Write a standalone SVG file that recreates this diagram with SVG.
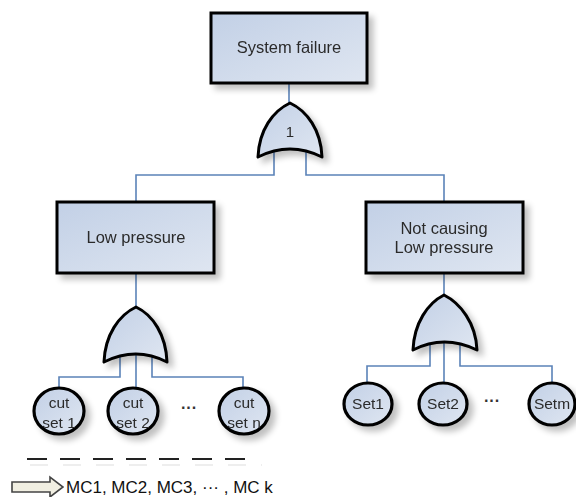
<svg xmlns="http://www.w3.org/2000/svg" width="576" height="497" viewBox="0 0 576 497">
  <style>
    .box { fill: url(#fillBlue); stroke: #000; stroke-width: 3; }
    .gate { fill: url(#fillBlue); stroke: #000; stroke-width: 3; stroke-linejoin: round; }
    .ev { fill: url(#fillBlue); stroke: #000; stroke-width: 3.2; }
    .wire { fill: none; stroke: #5b83b8; stroke-width: 1.6; }
    .lbl { font-family: "Liberation Sans", Arial, sans-serif; font-size: 16.5px; fill: #2b2b2b; text-anchor: middle; }
    .small { font-family: "Liberation Sans", Arial, sans-serif; font-size: 15.5px; fill: #2b2b2b; text-anchor: middle; }
    .dots { font-family: "Liberation Sans", Arial, sans-serif; font-size: 16px; font-weight: bold; fill: #333; text-anchor: middle; }
  </style>
  <defs>
    <linearGradient id="fillBlue" x1="0" y1="0" x2="1" y2="1">
      <stop offset="0" stop-color="#c2d0e6"/>
      <stop offset="1" stop-color="#dfe6f1"/>
    </linearGradient>
    <filter id="shadow" x="-20%" y="-20%" width="150%" height="150%">
      <feGaussianBlur in="SourceAlpha" stdDeviation="3"/>
      <feOffset dx="5" dy="5" result="b"/>
      <feComponentTransfer><feFuncA type="linear" slope="0.25"/></feComponentTransfer>
      <feMerge><feMergeNode/><feMergeNode in="SourceGraphic"/></feMerge>
    </filter>
  </defs>
  <rect width="576" height="497" fill="#fff"/>

  <!-- connectors -->
  <g id="connectors">
    <path class="wire" d="M289,83 V104"/>
    <path class="wire" d="M274,150 V175 H136 V202"/>
    <path class="wire" d="M306,150 V175 H444 V202"/>
    <path class="wire" d="M136,273 V308"/>
    <path class="wire" d="M444,273 V296"/>
    <path class="wire" d="M120,356 V377 H59 V389"/>
    <path class="wire" d="M136,353 V389"/>
    <path class="wire" d="M152,356 V377 H243 V389"/>
    <path class="wire" d="M430,345 V366 H367 V382"/>
    <path class="wire" d="M444,343 V382"/>
    <path class="wire" d="M460,345 V366 H552 V382"/>
  </g>

  <!-- top event -->
  <g id="system-failure" filter="url(#shadow)">
    <rect class="box" x="211" y="13" width="156" height="70"/>
    <text class="lbl" x="289" y="53">System failure</text>
  </g>

  <!-- OR gate under top event -->
  <g id="gate-1" filter="url(#shadow)">
    <path class="gate" d="M258,157 C259,130 273,111 290,103 C307,111 321,130 322,157 Q290,141 258,157 Z"/>
    <text class="lbl" x="290" y="137" style="font-size:15px">1</text>
  </g>

  <!-- intermediate events -->
  <g id="low-pressure" filter="url(#shadow)">
    <rect class="box" x="57" y="202" width="157" height="71"/>
    <text class="lbl" x="136" y="243">Low pressure</text>
  </g>
  <g id="not-causing" filter="url(#shadow)">
    <rect class="box" x="366" y="202" width="157" height="71"/>
    <text class="lbl" x="444" y="234">Not causing</text>
    <text class="lbl" x="444" y="253">Low pressure</text>
  </g>

  <!-- lower OR gates -->
  <g id="gate-left" filter="url(#shadow)">
    <path class="gate" d="M104,362 C105,335 119,315 136,307 C153,315 166,335 167,362 Q136,346 104,362 Z"/>
  </g>
  <g id="gate-right" filter="url(#shadow)">
    <path class="gate" d="M413,350 C414,323 428,303 444,295 C460,303 476,323 477,350 Q444,334 413,350 Z"/>
  </g>

  <!-- basic events, left branch -->
  <g id="cut-set-1" filter="url(#shadow)">
    <ellipse class="ev" cx="59" cy="411" rx="25" ry="23"/>
    <text class="small" x="59" y="408">cut</text>
    <text class="small" x="59" y="428">set 1</text>
  </g>
  <g id="cut-set-2" filter="url(#shadow)">
    <ellipse class="ev" cx="133" cy="411" rx="25" ry="23"/>
    <text class="small" x="133" y="408">cut</text>
    <text class="small" x="133" y="428">set 2</text>
  </g>
  <g id="cut-set-n" filter="url(#shadow)">
    <ellipse class="ev" cx="244" cy="411" rx="25" ry="23"/>
    <text class="small" x="244" y="408">cut</text>
    <text class="small" x="244" y="428">set n</text>
  </g>
  <text class="dots" x="189" y="413">···</text>

  <!-- basic events, right branch -->
  <g id="set-1" filter="url(#shadow)">
    <ellipse class="ev" cx="368" cy="404" rx="24" ry="21"/>
    <text class="small" x="368" y="409">Set1</text>
  </g>
  <g id="set-2" filter="url(#shadow)">
    <ellipse class="ev" cx="443" cy="404" rx="24" ry="21"/>
    <text class="small" x="443" y="409">Set2</text>
  </g>
  <g id="set-m" filter="url(#shadow)">
    <ellipse class="ev" cx="552" cy="404" rx="23" ry="21"/>
    <text class="small" x="552" y="409">Setm</text>
  </g>
  <text class="dots" x="492" y="406">···</text>

  <!-- separator and result -->
  <g id="separator">
    <line x1="27" y1="459" x2="257" y2="459" stroke="#222" stroke-width="2" stroke-dasharray="20 13"/>
    <line x1="30" y1="465" x2="262" y2="465" stroke="#ddd" stroke-width="1" stroke-dasharray="18 15"/>
  </g>
  <g id="result">
    <path d="M12,482 H50 V477 L63,487 L50,497 V492 H12 Z" fill="#f1efe2" stroke="#444" stroke-width="1.6" stroke-linejoin="miter"/>
    <text x="66" y="493" font-family="'Liberation Sans', Arial, sans-serif" font-size="17" fill="#111">MC1, MC2, MC3, ··· , MC k</text>
  </g>
</svg>
